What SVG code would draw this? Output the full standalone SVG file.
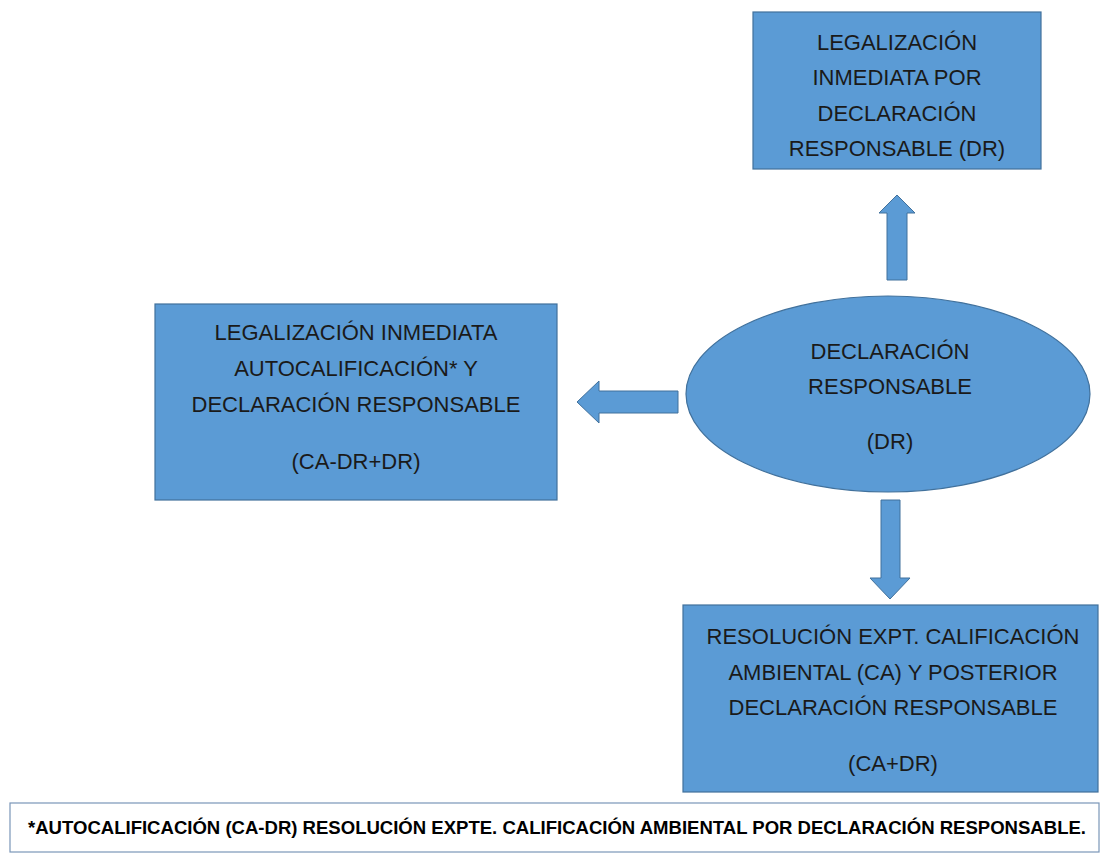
<svg xmlns="http://www.w3.org/2000/svg" width="1100" height="853" viewBox="0 0 1100 853">
<style>
.shape{fill:#5B9BD5;stroke:#41719C;stroke-width:1.2}
.arrow{fill:#5B9BD5;stroke:#41719C;stroke-width:1}
.t{font-family:"Liberation Sans",Arial,sans-serif;font-size:22px;fill:#1a1a1a;text-anchor:middle}
.fn{font-family:"Liberation Sans",Arial,sans-serif;font-size:18px;font-weight:bold;fill:#000}
</style>
<rect width="1100" height="853" fill="#fff"/>
<g id="connectors">
<path class="arrow" d="M887,280 L887,213 L879,213 L897,195 L915,213 L907,213 L907,280 Z"/>
<path class="arrow" d="M678,391 L599,391 L599,381 L577,402 L599,423 L599,413 L678,413 Z"/>
<path class="arrow" d="M881,500 L900,500 L900,578 L910,578 L890,599 L870,578 L881,578 Z"/>
</g>
<g id="node-top">
<rect class="shape" x="753" y="12" width="288" height="157"/>
<text class="t" x="897" y="50">LEGALIZACIÓN</text>
<text class="t" x="897" y="85">INMEDIATA POR</text>
<text class="t" x="897" y="121">DECLARACIÓN</text>
<text class="t" x="897" y="156">RESPONSABLE (DR)</text>
</g>
<g id="node-left">
<rect class="shape" x="155" y="304" width="402" height="196"/>
<text class="t" x="356" y="340">LEGALIZACIÓN INMEDIATA</text>
<text class="t" x="356" y="376">AUTOCALIFICACIÓN* Y</text>
<text class="t" x="356" y="412">DECLARACIÓN RESPONSABLE</text>
<text class="t" x="356" y="469">(CA-DR+DR)</text>
</g>
<g id="node-center">
<ellipse class="shape" cx="888" cy="394" rx="202" ry="98"/>
<text class="t" x="890" y="359">DECLARACIÓN</text>
<text class="t" x="890" y="394">RESPONSABLE</text>
<text class="t" x="890" y="449">(DR)</text>
</g>
<g id="node-bottom">
<rect class="shape" x="683" y="605" width="415" height="187"/>
<text class="t" x="893" y="644">RESOLUCIÓN EXPT. CALIFICACIÓN</text>
<text class="t" x="893" y="680">AMBIENTAL (CA) Y POSTERIOR</text>
<text class="t" x="893" y="715">DECLARACIÓN RESPONSABLE</text>
<text class="t" x="893" y="771">(CA+DR)</text>
</g>
<g id="footnote">
<rect x="10" y="803" width="1089" height="49" fill="#fff" stroke="#7a96b8" stroke-width="1.2"/>
<text class="fn" x="28" y="834" textLength="1058" lengthAdjust="spacingAndGlyphs">*AUTOCALIFICACIÓN  (CA-DR) RESOLUCIÓN EXPTE. CALIFICACIÓN AMBIENTAL POR DECLARACIÓN RESPONSABLE.</text>
</g>
</svg>
